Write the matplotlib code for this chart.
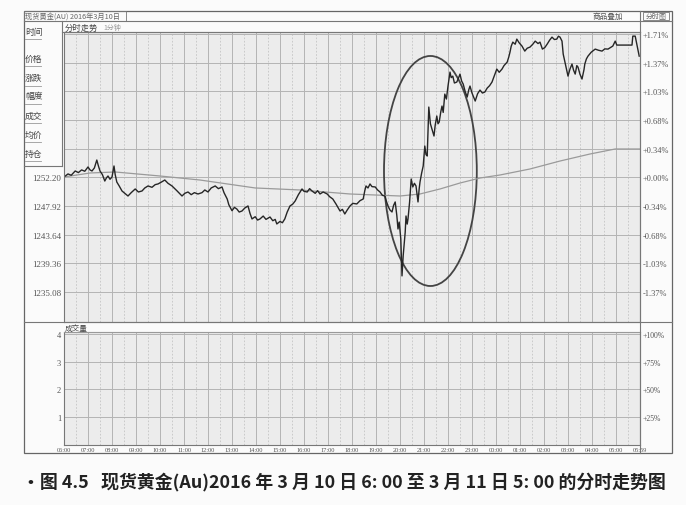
import matplotlib
matplotlib.use('Agg')
import matplotlib.pyplot as plt
from matplotlib.patches import Ellipse, Rectangle
from matplotlib.lines import Line2D

plt.rcParams['font.family'] = ['Noto Sans CJK SC', 'DejaVu Sans']

# gold spot, 1-minute trend, minutes after 06:00 on 2016-03-10
minutes = [0, 10, 18, 28, 36, 44, 52, 60, 65, 70, 76, 82, 86, 90, 96, 102, 106,
           110, 115, 120, 125, 128, 132, 138, 145, 152, 160, 168, 178, 186, 195,
           202, 210, 220, 228, 235, 244, 252, 260, 270, 282, 295, 302, 310, 318,
           326, 335, 345, 352, 360, 368, 378, 386, 395, 400, 408, 412, 415, 420,
           426, 432, 438, 445, 452, 460, 465, 470, 478, 484, 490, 498, 505, 515,
           522, 528, 532, 540, 546, 552, 558, 565, 572, 578, 586, 595, 600, 608,
           614, 620, 628, 634, 640, 648, 658, 664, 672, 680, 690, 696, 702, 708,
           715, 722, 732, 740, 748, 752, 755, 760, 765, 770, 778, 784, 790, 796,
           802, 806, 810, 815, 820, 824, 828, 832, 835, 838, 842, 845, 848, 850,
           853, 855, 858, 860, 864, 868, 872, 876, 880, 885, 888, 890, 894, 898,
           902, 905, 908, 912, 916, 920, 925, 928, 932, 935, 938, 942, 945, 948,
           952, 956, 960, 965, 968, 972, 976, 982, 986, 990, 994, 998, 1003, 1008,
           1012, 1015, 1020, 1028, 1034, 1040, 1046, 1052, 1058, 1064, 1070, 1076,
           1082, 1088, 1095, 1100, 1108, 1112, 1115, 1118, 1122, 1128, 1132, 1138,
           1145, 1150, 1152, 1158, 1165, 1172, 1178, 1185, 1190, 1196, 1202, 1208,
           1214, 1220, 1226, 1232, 1236, 1240, 1245, 1248, 1252, 1255, 1258, 1260,
           1265, 1270, 1274, 1278, 1282, 1285, 1290, 1295, 1300, 1302, 1306, 1310,
           1318, 1328, 1336, 1345, 1352, 1360, 1366, 1372, 1378, 1382, 1420, 1422,
           1428, 1432, 1438]
price = [1252.24, 1252.70, 1252.50, 1253.14, 1252.90, 1253.30, 1253.10, 1253.74,
         1253.30, 1253.14, 1253.60, 1254.78, 1253.90, 1253.14, 1252.60, 1251.64,
         1252.10, 1252.39, 1251.90, 1252.24, 1253.89, 1252.60, 1251.49, 1250.90,
         1250.15, 1249.80, 1249.40, 1249.90, 1250.45, 1250.00, 1250.15, 1250.60,
         1250.90, 1250.70, 1251.10, 1251.20, 1251.50, 1251.79, 1251.30, 1250.90,
         1250.20, 1249.40, 1249.80, 1250.00, 1249.60, 1249.90, 1249.70, 1249.90,
         1250.30, 1250.00, 1250.60, 1250.90, 1250.50, 1250.75, 1249.90, 1248.95,
         1248.10, 1247.76, 1247.20, 1247.70, 1247.46, 1247.00, 1247.16, 1247.60,
         1247.91, 1246.80, 1245.97, 1246.30, 1245.80, 1245.97, 1246.40, 1245.90,
         1246.26, 1245.70, 1245.90, 1245.22, 1245.60, 1245.40, 1245.97, 1247.00,
         1247.91, 1248.20, 1248.66, 1249.60, 1250.45, 1250.10, 1250.00, 1250.50,
         1250.15, 1249.80, 1250.20, 1249.70, 1250.00, 1249.70, 1249.30, 1248.95,
         1248.20, 1247.16, 1247.40, 1246.71, 1247.30, 1247.91, 1248.30, 1248.21,
         1248.70, 1248.95, 1250.20, 1250.90, 1250.60, 1251.20, 1250.80, 1250.75,
         1250.30, 1250.00, 1249.50, 1249.40, 1248.60, 1247.91, 1247.30, 1247.01,
         1248.00, 1248.51, 1246.50, 1244.47, 1245.50, 1242.98, 1237.45, 1240.50,
         1241.93, 1244.00, 1246.41, 1245.20, 1245.97, 1248.50, 1251.94, 1250.75,
         1251.30, 1250.90, 1248.51, 1250.50, 1251.49, 1252.80, 1253.89, 1256.87,
         1255.60, 1255.38, 1262.70, 1260.20, 1259.41, 1258.37, 1260.00, 1261.36,
         1260.20, 1260.46, 1262.00, 1262.85, 1261.90, 1264.64, 1263.90, 1265.84,
         1267.93, 1267.10, 1267.33, 1266.30, 1266.44, 1267.00, 1267.63, 1266.60,
         1266.14, 1265.00, 1264.20, 1265.30, 1265.84, 1264.80, 1263.60, 1264.70,
         1265.24, 1264.80, 1264.94, 1265.54, 1265.90, 1266.44, 1267.40, 1268.38,
         1267.90, 1268.38, 1268.90, 1269.43, 1270.20, 1270.92, 1271.80, 1272.41,
         1272.10, 1272.86, 1272.30, 1271.82, 1271.30, 1271.07, 1271.50, 1271.67,
         1272.10, 1272.56, 1272.20, 1272.41, 1271.37, 1271.60, 1272.12, 1272.70,
         1273.16, 1272.80, 1272.86, 1273.30, 1273.16, 1272.56, 1270.62, 1269.50,
         1268.68, 1267.80, 1267.33, 1268.40, 1269.13, 1268.20, 1267.63, 1268.90,
         1268.68, 1267.60, 1266.89, 1268.30, 1269.13, 1269.90, 1270.32, 1270.90,
         1271.37, 1271.20, 1271.07, 1271.40, 1271.37, 1271.60, 1271.82, 1272.56,
         1271.97, 1271.97, 1273.31, 1273.31, 1272.12, 1270.32]

# average price line
avg_minutes = [0, 65, 128, 240, 340, 478, 590, 715, 840, 890, 940, 990, 1040,
               1090, 1165, 1240, 1315, 1378, 1440]
avg_price = [1252.24, 1252.84, 1252.99, 1252.39, 1251.79, 1250.60, 1250.30,
             1249.70, 1249.40, 1249.70, 1250.45, 1251.34, 1252.09, 1252.54,
             1253.44, 1254.63, 1255.68, 1256.43, 1256.43]

base_price = 1252.20
pct_levels = [1.71, 1.368, 1.026, 0.684, 0.342, 0.0, -0.342, -0.684, -1.026, -1.368]
right_labels = ['+1.71%', '+1.37%', '+1.03%', '+0.68%', '+0.34%', '+0.00%',
                '-0.34%', '-0.68%', '-1.03%', '-1.37%']
left_labels = ['', '', '', '', '', '1252.20', '1247.92', '1243.64', '1239.36', '1235.08']
vol_levels = [1, 2, 3, 4]
vol_right = ['+25%', '+50%', '+75%', '+100%']
time_labels = ['06:00', '07:00', '08:00', '09:00', '10:00', '11:00', '12:00',
               '13:00', '14:00', '15:00', '16:00', '17:00', '18:00', '19:00',
               '20:00', '21:00', '22:00', '23:00', '00:00', '01:00', '02:00',
               '03:00', '04:00', '05:00', '05:59']
side_items = ['时间', '价格', '涨跌', '幅度', '成交', '均价', '持仓']
caption = '•图 4.5   现货黄金(Au)2016 年 3 月 10 日 6: 00 至 3 月 11 日 5: 00 的分时走势图'

W, H = 686, 506
def fx(px): return px / W
def fy(py): return 1 - py / H

fig = plt.figure(figsize=(W / 100, H / 100), dpi=100)
fig.patch.set_facecolor('#fbfbfb')

grid_c = '#b4b4b4'
txt_c = '#555555'
price_levels = [base_price * (1 + p / 100) for p in pct_levels]

ax = fig.add_axes([fx(64), fy(323), fx(640) - fx(64), fy(33) - fy(323)])
av = fig.add_axes([fx(64), fy(446), fx(640) - fx(64), fy(333) - fy(446)])

for a in (ax, av):
    a.set_facecolor('#ececec')
    a.set_xlim(0, 1440)
    a.set_xticks(range(0, 1441, 60))
    a.set_xticks(range(30, 1440, 60), minor=True)
    a.grid(True, which='major', axis='x', color=grid_c, lw=0.7)
    a.grid(True, which='minor', axis='x', color='#c4c4c4', lw=0.6, ls=(0, (2, 2)))
    a.grid(True, which='major', axis='y', color=grid_c, lw=0.7)
    a.tick_params(which='both', length=0)
    for s in a.spines.values():
        s.set_color('#777777')
        s.set_linewidth(0.8)
    a.set_axisbelow(True)

# price panel
ax.set_ylim(base_price * (1 - 1.7285 / 100), base_price * (1 + 1.735 / 100))
ax.set_yticks(price_levels)
ax.set_yticklabels(left_labels, family='Liberation Serif', fontsize=6.5, color=txt_c)
ax.tick_params(axis='y', pad=2)
ax.set_xticklabels([])
ax.plot(avg_minutes, avg_price, color='#9a9a9a', lw=0.9)
ax.plot(minutes, price, color='#262626', lw=1.0)
ax.add_patch(Ellipse((916, 1253.14), 232, 34.4, fill=False, ec='#444444', lw=1.3))

axr = ax.twinx()
axr.set_ylim(ax.get_ylim())
axr.set_yticks(price_levels)
axr.set_yticklabels(right_labels, family='Liberation Serif', fontsize=6, color=txt_c)
axr.tick_params(length=0, pad=2)
for s in axr.spines.values():
    s.set_visible(False)

# volume panel (empty)
av.set_ylim(0, 4.07)
av.set_yticks(vol_levels)
av.set_yticklabels([str(v) for v in vol_levels], family='Liberation Serif',
                   fontsize=6, color=txt_c)
av.tick_params(axis='y', pad=2)
av.set_xticklabels(time_labels, family='Liberation Serif', fontsize=4.6, color=txt_c)
av.tick_params(axis='x', pad=1.5)
avr = av.twinx()
avr.set_ylim(av.get_ylim())
avr.set_yticks(vol_levels)
avr.set_yticklabels(vol_right, family='Liberation Serif', fontsize=5.5, color=txt_c)
avr.tick_params(length=0, pad=2)
for s in avr.spines.values():
    s.set_visible(False)

# window frame
def hline(y, x0, x1, c='#777777', lw=0.8):
    fig.add_artist(Line2D([fx(x0), fx(x1)], [fy(y), fy(y)], color=c, lw=lw))

def vline(x, y0, y1, c='#777777', lw=0.8):
    fig.add_artist(Line2D([fx(x), fx(x)], [fy(y0), fy(y1)], color=c, lw=lw))

fig.add_artist(Rectangle((fx(24), fy(454)), fx(672) - fx(24), fy(12) - fy(454),
                         fill=False, ec='#666666', lw=0.9))
hline(22, 24, 672)
hline(33, 62, 640)
hline(323, 24, 672)
hline(333, 64, 640, c='#aaaaaa', lw=0.5)
vline(62, 22, 167)
hline(167, 24, 62)
vline(640, 12, 454)
fig.add_artist(Rectangle((fx(24), fy(22)), fx(126) - fx(24), fy(12) - fy(22),
                         fill=False, ec='#777777', lw=0.6))
fig.add_artist(Rectangle((fx(643), fy(21)), fx(669) - fx(643), fy(13) - fy(21),
                         fill=False, ec='#777777', lw=0.6))

fig.text(fx(25), fy(17), '现货黄金(AU) 2016年3月10日', fontsize=5.2, color='#666666', va='center')
fig.text(fx(608), fy(17), '商品叠加', fontsize=5.5, color='#555555', va='center', ha='center')
fig.text(fx(656), fy(17), '分时图', fontsize=5, color='#666666', va='center', ha='center')
fig.text(fx(65), fy(28), '分时走势', fontsize=6, color='#444444', va='center')
fig.text(fx(103), fy(28), '1分钟', fontsize=5, color='#999999', va='center')
fig.text(fx(65), fy(329), '成交量', fontsize=5.5, color='#444444', va='center')

side_y = [32, 59, 79, 97, 116, 135, 154]
for name, yy in zip(side_items, side_y):
    fig.text(fx(25), fy(yy), name, fontsize=6.3, color='#444444', va='center')
    hline(yy + 8, 25, 41, c='#999999', lw=0.6)

fig.text(fx(22), fy(482), caption, fontsize=12.9, fontweight='bold',
         color='#222222', va='center')

fig.savefig('out.png', dpi=100, facecolor=fig.get_facecolor())
